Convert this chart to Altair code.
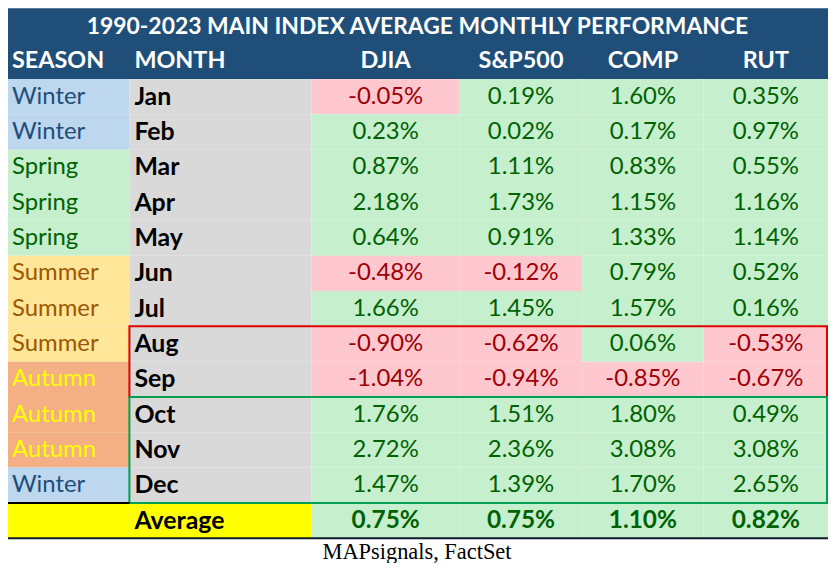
import altair as alt
import pandas as pd

# ---------------- data ----------------
title = "1990-2023 MAIN INDEX AVERAGE MONTHLY PERFORMANCE"
headers = ["SEASON", "MONTH", "DJIA", "S&P500", "COMP", "RUT"]
seasons = ["Winter", "Winter", "Spring", "Spring", "Spring", "Summer",
           "Summer", "Summer", "Autumn", "Autumn", "Autumn", "Winter"]
months = ["Jan", "Feb", "Mar", "Apr", "May", "Jun",
          "Jul", "Aug", "Sep", "Oct", "Nov", "Dec"]
djia = [-0.05, 0.23, 0.87, 2.18, 0.64, -0.48, 1.66, -0.90, -1.04, 1.76, 2.72, 1.47]
sp500 = [0.19, 0.02, 1.11, 1.73, 0.91, -0.12, 1.45, -0.62, -0.94, 1.51, 2.36, 1.39]
comp = [1.60, 0.17, 0.83, 1.15, 1.33, 0.79, 1.57, 0.06, -0.85, 1.80, 3.08, 1.70]
rut = [0.35, 0.97, 0.55, 1.16, 1.14, 0.52, 0.16, -0.53, -0.67, 0.49, 3.08, 2.65]
average_label = "Average"
averages = [0.75, 0.75, 1.10, 0.82]
source = "MAPsignals, FactSet"
red_box_months = ["Aug", "Sep"]
green_box_months = ["Oct", "Nov", "Dec"]

# ---------------- layout & style ----------------
COL_EDGES = [7, 130, 313, 462, 585, 707, 832]   # image-pixel column edges
TOP, ROW_H, N_ROWS = 7, 35.5, 15
W, H = 824, 555
FONT = "Lato"
HEADER_BG = "#1f4e79"
MONTH_BG = "#d9d9d9"
AVG_BG = "#ffff00"
SEASON_STYLE = {
    "Winter": ("#bdd7ee", "#1f4e79"),
    "Spring": ("#c6efce", "#006100"),
    "Summer": ("#ffe699", "#9c5700"),
    "Autumn": ("#f4b084", "#ffff00"),
}
POS = ("#c6efce", "#006100")
NEG = ("#ffc7ce", "#9c0006")

xs = alt.Scale(domain=[8, 8 + W], nice=False, zero=False)
ys = alt.Scale(domain=[0, N_ROWS], range=[TOP - 8, TOP - 8 + N_ROWS * ROW_H],
               nice=False, zero=False)


def center(c):
    return (COL_EDGES[c] + COL_EDGES[c + 1]) / 2


series = [djia, sp500, comp, rut]

# ---------------- cells ----------------
cells = [dict(x0=COL_EDGES[0], x1=COL_EDGES[-1], r0=0, r1=2, fill=HEADER_BG)]
for i, m in enumerate(months):
    r = 2 + i
    cells.append(dict(x0=COL_EDGES[0], x1=COL_EDGES[1], r0=r, r1=r + 1,
                      fill=SEASON_STYLE[seasons[i]][0]))
    cells.append(dict(x0=COL_EDGES[1], x1=COL_EDGES[2], r0=r, r1=r + 1, fill=MONTH_BG))
    for c, s in enumerate(series):
        cells.append(dict(x0=COL_EDGES[2 + c], x1=COL_EDGES[3 + c], r0=r, r1=r + 1,
                          fill=(POS if s[i] >= 0 else NEG)[0]))
ravg = 2 + len(months)
cells.append(dict(x0=COL_EDGES[0], x1=COL_EDGES[2], r0=ravg, r1=ravg + 1, fill=AVG_BG))
for c, v in enumerate(averages):
    cells.append(dict(x0=COL_EDGES[2 + c], x1=COL_EDGES[3 + c], r0=ravg, r1=ravg + 1,
                      fill=(POS if v >= 0 else NEG)[0]))
cells_df = pd.DataFrame(cells)

rects = alt.Chart(cells_df).mark_rect(strokeWidth=0).encode(
    x=alt.X("x0:Q", scale=xs, axis=None), x2="x1:Q",
    y=alt.Y("r0:Q", scale=ys, axis=None), y2="r1:Q",
    color=alt.Color("fill:N", scale=None),
)


def text_layer(df, size, weight="normal", align="center", font=FONT):
    return alt.Chart(df).mark_text(
        font=font, fontSize=size, fontWeight=weight, align=align, baseline="middle"
    ).encode(
        x=alt.X("x:Q", scale=xs, axis=None),
        y=alt.Y("r:Q", scale=ys, axis=None),
        text="label:N",
        color=alt.Color("color:N", scale=None),
    )


title_df = pd.DataFrame([dict(x=(COL_EDGES[0] + COL_EDGES[-1]) / 2, r=0.52,
                              label=title, color="white")])
head_left_df = pd.DataFrame([dict(x=12, r=1.5, label=headers[0], color="white"),
                             dict(x=135, r=1.5, label=headers[1], color="white")])
head_center_df = pd.DataFrame([dict(x=center(2 + c), r=1.5, label=h, color="white")
                               for c, h in enumerate(headers[2:])])
season_df = pd.DataFrame([dict(x=12, r=2.5 + i, label=s, color=SEASON_STYLE[s][1])
                          for i, s in enumerate(seasons)])
month_df = pd.DataFrame([dict(x=135, r=2.5 + i, label=m, color="black")
                         for i, m in enumerate(months)]
                        + [dict(x=135, r=ravg + 0.5, label=average_label, color="black")])
values_df = pd.DataFrame([dict(x=center(2 + c), r=2.5 + i, label=f"{v:.2f}%",
                               color=(POS if v >= 0 else NEG)[1])
                          for c, s in enumerate(series) for i, v in enumerate(s)])
avg_df = pd.DataFrame([dict(x=center(2 + c), r=ravg + 0.5, label=f"{v:.2f}%",
                            color=(POS if v >= 0 else NEG)[1])
                       for c, v in enumerate(averages)])
source_df = pd.DataFrame([dict(x=419, r=15.38, label=source, color="black")])

# ---------------- boxes & rules ----------------
def box_rows(ms):
    idx = [months.index(m) for m in ms]
    return 2 + min(idx), 3 + max(idx)


rb, gb = box_rows(red_box_months), box_rows(green_box_months)
BOX_RIGHT = COL_EDGES[-1] - 1
boxes_df = pd.DataFrame([
    dict(x0=COL_EDGES[1], x1=BOX_RIGHT, r0=rb[0], r1=rb[1], color="#e00000"),
    dict(x0=COL_EDGES[1], x1=BOX_RIGHT, r0=gb[0], r1=gb[1], color="#00a050"),
])
boxes = alt.Chart(boxes_df).mark_rect(filled=False, strokeWidth=2).encode(
    x=alt.X("x0:Q", scale=xs, axis=None), x2="x1:Q",
    y=alt.Y("r0:Q", scale=ys, axis=None), y2="r1:Q",
    stroke=alt.Stroke("color:N", scale=None),
)

rules_df = pd.DataFrame([
    dict(x0=COL_EDGES[0], x1=COL_EDGES[1], r=ravg, color="#000000"),
    dict(x0=COL_EDGES[0], x1=COL_EDGES[-1], r=ravg + 1, color="#0d1b2a"),
])
rules = alt.Chart(rules_df).mark_rule(strokeWidth=2).encode(
    x=alt.X("x0:Q", scale=xs, axis=None), x2="x1:Q",
    y=alt.Y("r:Q", scale=ys, axis=None),
    color=alt.Color("color:N", scale=None),
)

chart = alt.layer(
    rects,
    boxes,
    rules,
    text_layer(title_df, 23, "bold"),
    text_layer(head_left_df, 23.5, "bold", "left"),
    text_layer(head_center_df, 23.5, "bold"),
    text_layer(season_df, 24, "normal", "left"),
    text_layer(month_df, 25, "bold", "left"),
    text_layer(values_df, 24),
    text_layer(avg_df, 24.5, "bold"),
    text_layer(source_df, 22.5, "normal", "center", "Liberation Serif"),
).properties(
    width=W, height=H, padding=0, autosize="none", background="white"
).configure_view(strokeWidth=0)

chart.save("out.html", embed_options={"renderer": "svg", "actions": False})
